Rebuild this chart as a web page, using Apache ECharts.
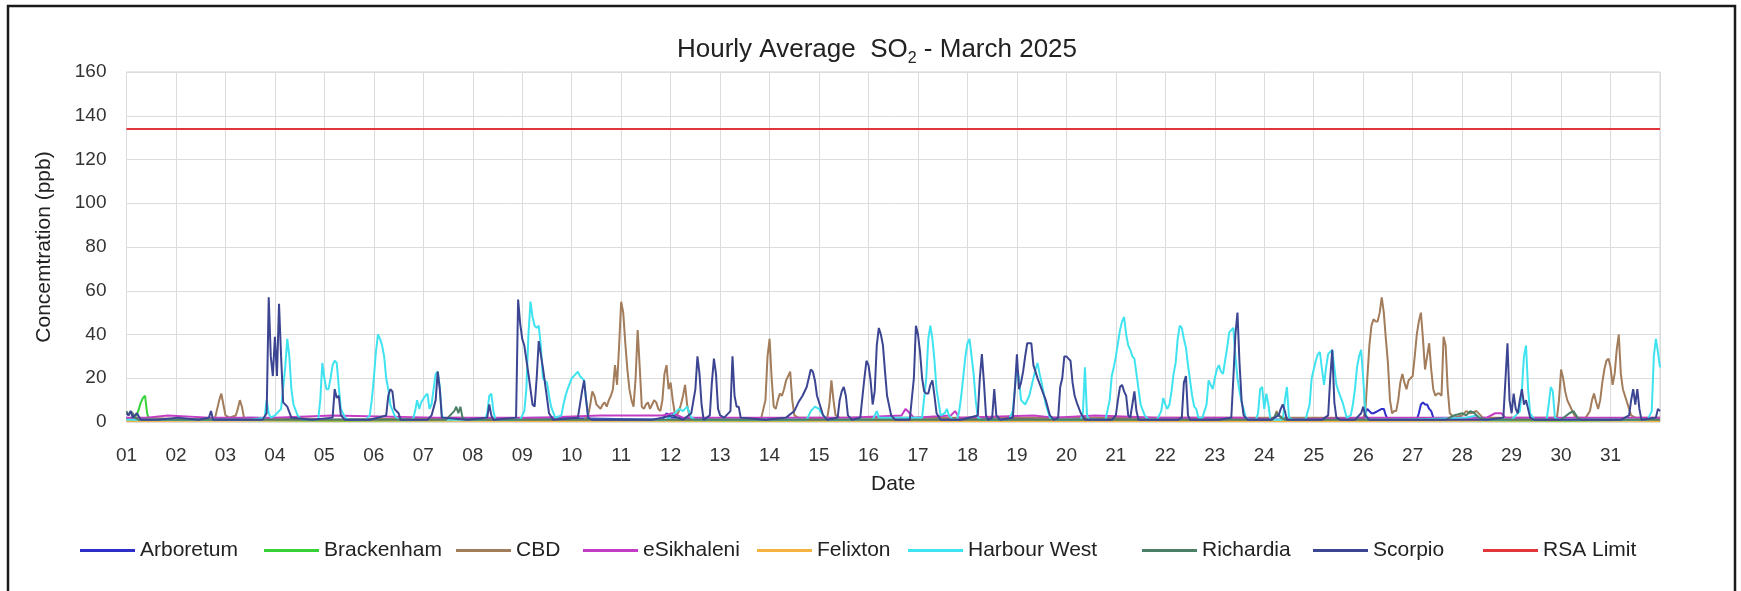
<!DOCTYPE html>
<html lang="en" style="height: 100%">
<head>
  <meta charset="utf-8">
  <title>Hourly Average SO2 - March 2025</title>
</head>
<body style="height: 100%; margin: 0; background: #fff">
  <div id="container" style="width: 1741px; height: 591px"></div>

  <script type="text/javascript" src="https://cdn.jsdelivr.net/npm/echarts@6.0.0/dist/echarts.min.js"></script>

  <script type="text/javascript">
    // [hour of month, ppb] - hour 0 = 01 March 00:00
    var stations = ['Arboretum', 'Brackenham', 'CBD', 'eSikhaleni', 'Felixton', 'Harbour West', 'Richardia', 'Scorpio'];
    var colors = ['#2e2ec8', '#36d136', '#a27c5b', '#c43cc4', '#f5b342', '#3fe3ef', '#4b7f66', '#3c4592'];
    var rsaLimit = 134;
    var hoursInMonth = 744;

    var arboretum = [[0,2],[5,1],[30,1],[60,2],[100,1],[150,1],[200,2],[260,1],[262,4],[264,2],[300,1],[380,1],[450,2],[500,1],[560,1],[600,1],[601,4],[602,6],[603,5],[604,4],[605,4],[607,5],[609,6],[610,6],[611,3],[612,1],[626,1],[627,4],[628,8],[629,9],[630,8],[631,8],[632,6],[633,5],[634,2],[635,1],[680,1],[744,1]];

    var brackenham = [[0,1],[3,2],[5,3],[6,6],[7,9],[8,11],[9,12],[10,4],[11,1],[40,1],[100,0.5],[200,1],[300,0.5],[400,1],[500,0.5],[600,1],[700,0.5],[744,1]];

    var cbd = [[0,1],[10,2],[30,1],[43,2],[44,6],[45,10],[46,13],[47,8],[48,3],[50,2],[53,3],[54,6],[55,10],[56,7],[57,2],[60,1],[80,2],[100,1],[160,2],[200,1],
      [222,1],[224,3],[225,8],[226,14],[227,12],[228,8],[229,7],[230,6],[231,8],[232,9],[233,7],[234,10],[235,12],[236,15],[237,26],[238,17],[239,35],[240,55],[241,50],[242,36],[243,24],[244,15],[245,10],[246,7],[247,20],[248,42],[249,25],[250,7],[251,6],[252,8],[253,9],[254,6],[255,8],[256,10],[257,9],[258,6],[259,5],[260,10],[261,22],[262,26],[263,15],[264,18],[265,10],[266,4],[267,3],[268,5],[269,8],[270,12],[271,17],[272,8],[273,3],[275,1],
      [308,2],[310,10],[311,30],[312,38],[313,20],[314,7],[315,6],[316,10],[317,13],[318,12],[319,15],[320,19],[321,21],[322,23],[323,10],[324,3],[326,2],[340,2],[341,8],[342,19],[343,10],[344,3],[346,2],
      [400,2],[500,2],[557,2],[558,5],[559,3],[561,2],
      [600,2],[601,4],[602,20],[603,35],[604,44],[605,47],[606,46],[607,46],[608,50],[609,57],[610,50],[611,38],[612,27],[613,10],[614,4],[615,5],[616,5],[617,10],[618,18],[619,22],[620,18],[621,15],[622,19],[623,20],[624,21],[625,30],[626,40],[627,46],[628,50],[629,38],[630,24],[631,30],[632,36],[633,24],[634,15],[635,12],[636,13],[637,13],[638,12],[639,39],[640,35],[641,15],[642,4],[644,2],
      [648,3],[650,5],[652,4],[655,5],[658,2],
      [694,2],[695,10],[696,24],[697,20],[698,14],[699,10],[700,8],[701,6],[703,2],[708,2],[710,5],[711,10],[712,13],[713,9],[714,6],[715,10],[716,18],[717,24],[718,28],[719,29],[720,25],[721,17],[722,22],[723,33],[724,40],[725,22],[726,15],[727,12],[728,9],[729,6],[730,3],[732,2],[744,2]];

    var eSikhaleni = [[0,2],[10,2],[20,3],[40,2],[72,2],[100,3],[150,2],[200,2],[230,3],[260,3],[265,4],[270,2],[300,2],[350,2],[376,3],[378,6],[380,4],[382,2],[400,3],[402,5],[404,2],[440,3],[450,2],[470,3],[500,2],[540,2],[560,1],[600,2],[640,2],[660,2],[664,4],[667,4],[669,2],[700,2],[744,2]];

    var felixton = [[0,0.5],[100,0.8],[200,0.5],[300,0.7],[400,0.5],[500,0.6],[600,0.5],[700,0.8],[744,0.5]];

    var harbourWest = [[0,1],[20,1],[60,1],[67,2],[68,10],[69,4],[70,2],[72,3],[75,6],[77,25],[78,38],[79,30],[80,15],[81,8],[83,3],[85,1],[93,1],[94,10],[95,27],[96,20],[97,15],[98,15],[99,20],[100,26],[101,28],[102,27],[103,16],[104,6],[106,2],[108,1],[116,1],[118,3],[119,10],[120,20],[121,32],[122,40],[123,38],[124,35],[125,30],[126,20],[127,15],[128,8],[130,3],[132,1],
      [139,1],[140,5],[141,10],[142,6],[143,9],[145,12],[146,13],[147,6],[148,8],[149,15],[150,22],[151,23],[152,16],[153,3],[155,1],[174,1],[175,4],[176,12],[177,13],[178,5],[179,1],
      [191,1],[193,5],[194,15],[195,40],[196,55],[197,48],[198,44],[199,43],[200,44],[201,35],[202,20],[203,19],[204,18],[205,12],[206,7],[208,2],[211,3],[212,8],[213,12],[214,15],[216,20],[217,21],[218,22],[219,23],[220,21],[221,20],[222,19],[223,10],[224,2],[226,1],
      [262,1],[266,4],[268,6],[270,5],[272,7],[274,2],[276,1],[330,1],[332,5],[334,7],[336,6],[338,3],[340,1],[362,1],[364,5],[365,2],
      [386,2],[388,20],[389,38],[390,44],[391,38],[392,28],[393,15],[395,3],[397,4],[398,6],[399,3],[401,1],[403,1],[404,5],[405,12],[406,21],[407,30],[408,36],[409,38],[410,30],[411,22],[412,10],[413,2],[415,1],
      [428,1],[430,5],[431,15],[432,25],[433,20],[434,10],[436,8],[438,12],[440,20],[441,24],[442,27],[443,22],[444,18],[446,8],[448,2],[450,1],[463,1],[464,4],[465,25],[466,3],[467,1],
      [475,1],[477,10],[478,21],[479,25],[480,30],[481,36],[482,42],[483,46],[484,48],[485,40],[486,35],[487,33],[488,30],[489,29],[490,22],[491,15],[492,8],[494,3],[496,1],
      [500,1],[502,5],[503,11],[504,8],[505,6],[506,8],[507,14],[508,22],[509,27],[510,38],[511,44],[512,43],[513,38],[514,34],[515,26],[516,19],[517,12],[518,7],[519,6],[520,2],[522,2],
      [524,8],[525,19],[526,17],[527,15],[528,20],[529,24],[530,26],[531,23],[532,22],[533,28],[534,34],[535,41],[536,42],[537,43],[538,30],[539,20],[540,14],[541,9],[542,6],[543,2],[545,1],
      [548,1],[549,4],[550,15],[551,16],[552,6],[553,13],[554,8],[555,1],[561,1],[562,10],[563,16],[564,2],[566,1],
      [572,1],[574,8],[575,20],[576,24],[577,28],[578,31],[579,32],[580,24],[581,17],[582,25],[583,31],[584,32],[585,33],[586,25],[587,17],[588,14],[590,9],[592,2],[594,3],[595,8],[596,15],[597,25],[598,30],[599,33],[600,20],[601,5],[602,1],
      [620,1],[650,2],[655,3],[658,1],[672,1],[676,5],[677,15],[678,30],[679,35],[680,15],[681,4],[683,1],[689,1],[690,8],[691,16],[692,14],[693,2],[695,1],[738,1],[740,5],[741,30],[742,38],[743,32],[744,25]];

    var richardia = [[0,5],[1,3],[2,5],[3,4],[4,2],[6,1],[50,1],[100,1],[155,1],[157,3],[159,5],[160,7],[161,4],[162,7],[163,2],[165,1],[250,1],[400,1],[556,1],[558,4],[560,2],[562,1],[640,1],[644,3],[648,4],[650,3],[652,5],[654,4],[656,2],[660,1],[696,1],[700,4],[702,5],[704,2],[706,1],[744,1]];

    var scorpio = [[0,4],[1,3],[2,5],[3,2],[5,4],[7,1],[15,1],[25,2],[35,1],[40,2],[41,5],[42,1],[55,1],[66,1],[68,4],[69,57],[70,30],[71,21],[72,39],[73,21],[74,54],[75,30],[76,9],[78,7],[80,2],[90,1],
      [100,2],[101,15],[102,11],[103,12],[104,3],[106,1],[118,1],[126,3],[127,12],[128,15],[129,14],[130,6],[132,4],[133,1],[146,1],[148,3],[150,10],[151,23],[152,15],[153,2],[165,1],[175,2],[176,8],[177,3],[178,1],
      [189,2],[190,56],[191,45],[192,38],[193,35],[195,22],[197,8],[198,7],[199,20],[200,37],[202,25],[203,18],[205,4],[207,1],[219,2],[221,14],[222,19],[223,10],[224,2],[226,1],
      [240,1],[255,1],[260,2],[265,3],[270,1],[274,4],[276,15],[277,30],[278,22],[279,8],[280,1],[283,3],[284,18],[285,29],[286,22],[287,6],[288,3],[290,2],[293,5],[294,30],[295,12],[296,7],[297,7],[298,2],[310,1],
      [320,2],[324,5],[326,9],[328,12],[330,16],[331,20],[332,24],[333,23],[334,19],[335,12],[336,9],[338,3],[340,1],[345,2],[346,10],[347,14],[348,16],[349,12],[350,3],[352,1],
      [356,2],[358,20],[359,28],[360,26],[361,19],[362,8],[363,14],[364,35],[365,43],[366,40],[367,35],[368,23],[369,12],[371,3],[373,1],[380,1],[382,20],[383,44],[384,40],[385,32],[386,20],[387,14],[388,13],[389,13],[390,17],[391,19],[392,12],[393,4],[395,1],
      [405,1],[413,3],[414,20],[415,31],[416,18],[417,3],[418,1],[420,2],[421,15],[422,3],[424,1],[430,2],[431,15],[432,31],[433,15],[434,18],[435,23],[436,30],[437,36],[439,36],[440,26],[442,20],[444,15],[446,10],[448,3],[450,1],
      [452,2],[453,16],[454,20],[455,30],[456,30],[457,29],[458,28],[459,18],[460,12],[461,9],[463,4],[465,1],[478,1],[480,3],[481,10],[482,16],[483,17],[484,14],[485,12],[486,3],[487,2],[488,8],[489,14],[490,5],[491,1],
      [510,1],[512,2],[513,18],[514,21],[515,3],[516,1],[530,1],[536,2],[537,20],[538,40],[539,50],[540,27],[541,10],[542,3],[544,1],[555,1],[559,3],[560,6],[561,8],[562,5],[563,1],
      [580,1],[583,3],[584,20],[585,33],[586,9],[587,2],[589,1],[596,1],[599,4],[600,7],[601,3],[603,1],[660,1],[668,2],[670,36],[671,10],[672,4],[673,13],[674,6],[675,4],[676,10],[677,15],[678,8],[679,10],[680,6],[681,2],[683,1],
      [725,1],[729,3],[730,10],[731,15],[732,8],[733,15],[734,6],[735,1],[742,2],[743,6],[744,5]];

    var stationData = [arboretum, brackenham, cbd, eSikhaleni, felixton, harbourWest, richardia, scorpio];

    var dom = document.getElementById('container');
    var myChart = echarts.init(dom, null, { renderer: 'canvas' });

    var font = 'Liberation Sans, Arial, sans-serif';
    var series = stations.map(function (name, i) {
      return {
        name: name,
        type: 'line',
        data: stationData[i],
        showSymbol: false,
        symbol: 'none',
        color: colors[i],
        lineStyle: { width: 2 }
      };
    });
    series.push({
      name: 'RSA Limit',
      type: 'line',
      data: [[0, rsaLimit], [hoursInMonth, rsaLimit]],
      showSymbol: false,
      symbol: 'none',
      color: '#e3353c',
      lineStyle: { width: 2 }
    });

    // one legend per entry so each sits where it does in the original
    var legendLeft = [80, 264, 456, 583, 757, 908, 1142, 1313, 1483];
    var legends = series.map(function (s, i) {
      return {
        data: [s.name],
        left: legendLeft[i],
        top: 540,
        padding: 0,
        icon: 'rect',
        itemWidth: 55,
        itemHeight: 3,
        textStyle: { fontFamily: font, fontSize: 21, color: '#222' }
      };
    });

    var option = {
      animation: false,
      backgroundColor: '#fff',
      title: {
        text: 'Hourly Average  SO{sub|2} - March 2025',
        left: 872,
        top: 27,
        textAlign: 'center',
        textStyle: {
          fontFamily: font,
          fontSize: 26,
          fontWeight: 'normal',
          color: '#222',
          rich: {
            sub: { fontFamily: font, fontSize: 16, color: '#222', verticalAlign: 'bottom', lineHeight: 35 }
          }
        }
      },
      legend: legends,
      grid: {
        left: 126.5,
        right: 81,
        top: 72,
        bottom: 169,
        show: true,
        borderColor: '#d0d0d0',
        borderWidth: 1
      },
      xAxis: {
        type: 'value',
        min: 0,
        max: hoursInMonth,
        interval: 24,
        name: 'Date',
        nameLocation: 'middle',
        nameGap: 52,
        nameTextStyle: { fontFamily: font, fontSize: 21, color: '#222' },
        axisLine: { show: false },
        axisTick: { show: false },
        axisLabel: {
          fontFamily: font,
          fontSize: 19,
          color: '#333',
          margin: 24,
          showMaxLabel: false,
          formatter: function (v) {
            var d = v / 24 + 1;
            return d < 10 ? '0' + d : String(d);
          }
        },
        splitLine: { lineStyle: { color: '#dcdcdc', width: 1 } }
      },
      yAxis: {
        type: 'value',
        min: 0,
        max: 160,
        interval: 20,
        name: 'Concemtration (ppb)',
        nameLocation: 'middle',
        nameGap: 72,
        nameTextStyle: { fontFamily: font, fontSize: 21, color: '#222' },
        axisLine: { show: false },
        axisTick: { show: false },
        axisLabel: { fontFamily: font, fontSize: 19, color: '#333', margin: 20 },
        splitLine: { lineStyle: { color: '#dcdcdc', width: 1 } }
      },
      graphic: [{
        type: 'rect',
        shape: { x: 8, y: 6, width: 1727, height: 620 },
        style: { fill: null, stroke: '#1a1a1a', lineWidth: 2.5 },
        silent: true
      }],
      series: series
    };

    myChart.setOption(option);

    window.addEventListener('resize', function () {
      myChart.resize();
    });
  </script>
</body>
</html>
